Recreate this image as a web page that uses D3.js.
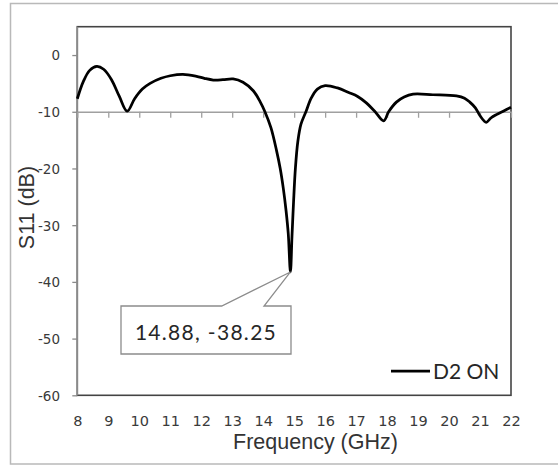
<!DOCTYPE html>
<html>
<head>
<meta charset="utf-8">
<script src="https://cdn.jsdelivr.net/npm/d3@7"></script>
<style>
  html, body { margin: 0; padding: 0; background: #fff; }
  svg { display: block; }
</style>
</head>
<body>
<svg id="chart" width="558" height="466"></svg>
<script>
// Reflection coefficient S11 of the antenna with diode D2 switched on
const frequency = [
  8.0, 8.2, 8.4, 8.63, 8.85, 9.1, 9.35, 9.61, 9.85, 10.1,
  10.35, 10.7, 11.0, 11.41, 11.85, 12.1, 12.39, 12.7, 13.03, 13.35,
  13.68, 13.9, 14.05, 14.25, 14.43, 14.55, 14.65, 14.74, 14.81, 14.88,
  14.93, 14.98, 15.04, 15.12, 15.22, 15.38, 15.55, 15.75, 16.0, 16.4,
  16.76, 17.05, 17.3, 17.6, 17.89, 18.05, 18.3, 18.55, 18.84, 19.48,
  20.24, 20.5, 20.67, 20.85, 21.0, 21.2, 21.35, 21.53, 21.75, 22.0
];
const s11 = [
  -7.7, -4.6, -2.7, -2.0, -2.5, -4.3, -7.2, -9.9, -7.7, -6.0,
  -5.0, -4.1, -3.65, -3.4, -3.75, -4.1, -4.4, -4.35, -4.2, -4.8,
  -6.3, -8.2, -9.9, -12.8, -16.8, -20.0, -23.5, -27.5, -31.5, -38.25,
  -32.0, -26.0, -20.0, -15.2, -12.2, -10.0, -7.6, -6.0, -5.4, -5.8,
  -6.6, -7.3, -8.3, -9.9, -11.6, -10.0, -8.3, -7.4, -6.9, -7.0,
  -7.2, -7.6, -8.3, -9.3, -10.7, -11.85, -11.1, -10.5, -9.9, -9.2
];
const xTicks = [8, 9, 10, 11, 12, 13, 14, 15, 16, 17, 18, 19, 20, 21, 22];
const yTicks = [0, -10, -20, -30, -40, -50, -60];
const markerPoint = [14.88, -38.25];
const seriesName = "D2 ON";
const xTitle = "Frequency (GHz)";
const yTitle = "S11 (dB)";

const svg = d3.select("#chart");
const plot = { left: 77.3, right: 511, top: 26.7, bottom: 395.3 };

const x = d3.scaleLinear().domain([8, 22]).range([plot.left, plot.right]);
const y = d3.scaleLinear().domain([-60, 5]).range([plot.bottom, plot.top]);

const tickFont = "'DejaVu Sans', Verdana, sans-serif";
const plainNumber = d => `${d}`;

// Outer chart frame
svg.append("rect")
  .attr("x", 10.5).attr("y", 3.5)
  .attr("width", 560).attr("height", 460.5)
  .attr("fill", "#fff")
  .attr("stroke", "#b9b9b9").attr("stroke-width", 1.5);

// Plot area frame
svg.append("rect")
  .attr("x", plot.left).attr("y", plot.top)
  .attr("width", plot.right - plot.left).attr("height", plot.bottom - plot.top)
  .attr("fill", "#fff")
  .attr("stroke", "#444").attr("stroke-width", 1.6);

// Vertical axis with outside ticks
const yAxis = svg.append("g")
  .attr("transform", `translate(${plot.left},0)`)
  .call(d3.axisLeft(y).tickValues(yTicks).tickSize(5).tickSizeOuter(0)
    .tickPadding(12.3).tickFormat(plainNumber));
yAxis.select(".domain")
  .attr("d", `M0,${plot.top}V${plot.bottom}`)
  .attr("stroke", "#8a8a8a").attr("stroke-width", 1.5);
yAxis.selectAll(".tick line").attr("stroke", "#8a8a8a").attr("stroke-width", 1.3);
yAxis.selectAll(".tick text")
  .attr("dy", "0.36em")
  .attr("fill", "#3a3a3a")
  .style("font-family", tickFont)
  .style("font-size", "13.5px");

// Horizontal axis line crossing at -10 dB, ticks pointing down
const xAxisLine = svg.append("g")
  .attr("transform", `translate(0,${y(-10)})`)
  .call(d3.axisBottom(x).tickValues(xTicks).tickSize(6).tickSizeOuter(0).tickFormat(""));
xAxisLine.select(".domain").attr("stroke", "#a0a0a0").attr("stroke-width", 1.5);
xAxisLine.selectAll(".tick line").attr("stroke", "#a0a0a0").attr("stroke-width", 1.3);

// Frequency labels below the plot area
const xLabels = svg.append("g")
  .attr("transform", `translate(0,${plot.bottom})`)
  .call(d3.axisBottom(x).tickValues(xTicks).tickSize(0).tickFormat(plainNumber));
xLabels.select(".domain").remove();
xLabels.selectAll(".tick text")
  .attr("y", 30.7).attr("dy", null)
  .attr("fill", "#3a3a3a")
  .style("font-family", tickFont)
  .style("font-size", "14.5px");

// S11 curve
const line = d3.line()
  .x((d, i) => x(frequency[i]))
  .y(d => y(d))
  .curve(d3.curveCatmullRom.alpha(0.5));
svg.append("path")
  .datum(s11)
  .attr("d", line)
  .attr("fill", "none")
  .attr("stroke", "#000")
  .attr("stroke-width", 2.75)
  .attr("stroke-linejoin", "round");

// Data callout for the resonance minimum
const tipX = x(markerPoint[0]), tipY = y(markerPoint[1]);
const box = { x0: 121, x1: 291, y0: 306, y1: 354, p0: 221.7, p1: 264 };
svg.append("path")
  .attr("d", `M${box.x0},${box.y0}H${box.p0}L${tipX},${tipY}L${box.p1},${box.y0}H${box.x1}V${box.y1}H${box.x0}Z`)
  .attr("fill", "#fff")
  .attr("stroke", "#8c8c8c").attr("stroke-width", 1.3);
svg.append("text")
  .attr("x", (box.x0 + box.x1) / 2).attr("y", 340)
  .attr("text-anchor", "middle")
  .attr("fill", "#262626")
  .style("font-family", "Lato, 'Open Sans', sans-serif")
  .style("font-size", "21px")
  .style("letter-spacing", "1.3px")
  .text(`${markerPoint[0]}, ${markerPoint[1]}`);

// Legend
svg.append("line")
  .attr("x1", 391).attr("x2", 430).attr("y1", 371).attr("y2", 371)
  .attr("stroke", "#000").attr("stroke-width", 2.75);
svg.append("text")
  .attr("x", 433).attr("y", 378.5)
  .attr("fill", "#262626")
  .style("font-family", "Lato, 'Open Sans', sans-serif")
  .style("font-size", "21px")
  .text(seriesName);

// Axis titles
svg.append("text")
  .attr("x", 315.5).attr("y", 449.3)
  .attr("text-anchor", "middle")
  .attr("fill", "#333")
  .style("font-family", "'Liberation Sans', Arial, sans-serif")
  .style("font-size", "21.5px")
  .text(xTitle);
svg.append("text")
  .attr("transform", "translate(33.5,207.5) rotate(-90)")
  .attr("text-anchor", "middle")
  .attr("fill", "#333")
  .style("font-family", "'Liberation Sans', Arial, sans-serif")
  .style("font-size", "21.5px")
  .text(yTitle);
</script>
</body>
</html>
